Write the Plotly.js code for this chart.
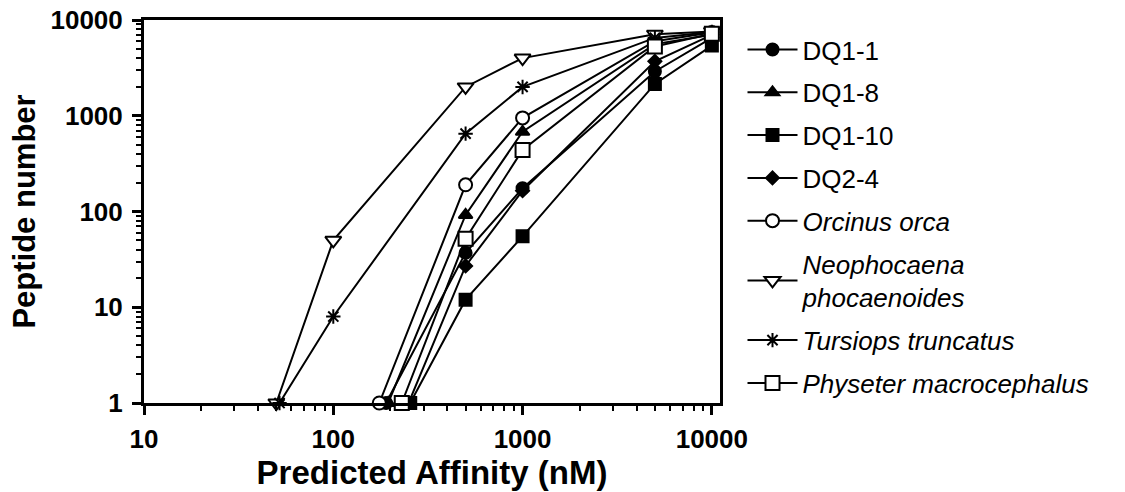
<!DOCTYPE html>
<html>
<head>
<meta charset="utf-8">
<script src="https://cdn.plot.ly/plotly-3.0.1.min.js"></script>
<style>html,body{margin:0;padding:0;background:#fff;}#chart{width:1125px;height:492px;}</style>
</head>
<body>
<div id="chart"></div>
<script>
// Series data (x = predicted affinity nM, y = peptide number)
const seriesNames = ["DQ1-1", "DQ1-8", "DQ1-10", "DQ2-4", "<i>Orcinus orca</i>", "<i>Neophocaena<br>phocaenoides</i>", "<i>Tursiops truncatus</i>", "<i>Physeter macrocephalus</i>"];

const dq11_x = [190, 500, 1000, 5000, 10000];
const dq11_y = [1, 37, 175, 2900, 6500];

const dq18_x = [195, 500, 1000, 5000, 10000];
const dq18_y = [1, 92, 680, 5600, 7000];

const dq110_x = [255, 500, 1000, 5000, 10000];
const dq110_y = [1, 12, 55, 2150, 5400];

const dq24_x = [250, 500, 1000, 5000, 10000];
const dq24_y = [1, 27, 165, 3700, 7000];

const orca_x = [175, 500, 1000, 5000, 10000];
const orca_y = [1, 190, 950, 6000, 7400];

const neo_x = [50, 100, 500, 1000, 5000, 10000];
const neo_y = [1, 50, 2000, 4000, 7100, 7600];

const turs_x = [52, 100, 500, 1000, 5000, 10000];
const turs_y = [1, 8, 650, 2000, 6500, 7500];

const phys_x = [230, 500, 1000, 5000, 10000];
const phys_y = [1, 52, 440, 5300, 7200];

const xTickVals = [10, 100, 1000, 10000];
const xTickText = ["10", "100", "1000", "10000"];
const yTickVals = [1, 10, 100, 1000, 10000];
const yTickText = ["1", "10", "100", "1000", "10000"];

const xs = [dq11_x, dq18_x, dq110_x, dq24_x, orca_x, neo_x, turs_x, phys_x];
const ys = [dq11_y, dq18_y, dq110_y, dq24_y, orca_y, neo_y, turs_y, phys_y];
const symbols = ["circle", "triangle-up", "square", "diamond", "circle", "triangle-down", "asterisk-open", "square"];
const sizes = [12, 12, 12, 10, 13, 14, 12, 14];
const fills = ["#000", "#000", "#000", "#000", "#fff", "#fff", "#000", "#fff"];

const traces = seriesNames.map((n, i) => ({
  type: "scatter",
  mode: "lines+markers",
  name: n,
  legendgroup: "g" + i,
  x: xs[i],
  y: ys[i],
  cliponaxis: false,
  line: {color: "#000", width: 2},
  marker: {symbol: symbols[i], size: sizes[i], color: fills[i], line: {color: "#000", width: 2}}
}));

const FAM = "Liberation Sans, Arial, sans-serif";
const axisFont = {family: FAM, size: 26, color: "#000", weight: "bold"};

const layout = {
  width: 1125,
  height: 492,
  margin: {l: 144, r: 405, t: 20, b: 89},
  paper_bgcolor: "#fff",
  plot_bgcolor: "#fff",
  font: {family: FAM, color: "#000"},
  showlegend: true,
  legend: {
    xref: "container", yref: "container",
    x: 0.66, y: 0.947, xanchor: "left", yanchor: "top",
    font: {family: FAM, size: 26, color: "#000"},
    itemwidth: 50,
    tracegroupgap: 6,
    maxheight: 480,
    bgcolor: "rgba(0,0,0,0)"
  },
  xaxis: {
    type: "log",
    range: [1, 4.043],
    showgrid: false, zeroline: false,
    showline: true, linecolor: "#000", linewidth: 3, mirror: true,
    ticks: "outside", ticklen: 9, tickwidth: 3, tickcolor: "#000",
    tickvals: xTickVals, ticktext: xTickText,
    tickfont: axisFont,
    ticklabelstandoff: 2,
    minor: {ticks: "outside", ticklen: 5, tickwidth: 2, tickcolor: "#000", dtick: "D1", showgrid: false},
    title: {text: "Predicted Affinity (nM)", font: {family: FAM, size: 33, color: "#000", weight: "bold"}, standoff: 0}
  },
  yaxis: {
    type: "log",
    range: [0, 4],
    showgrid: false, zeroline: false,
    showline: true, linecolor: "#000", linewidth: 3, mirror: true,
    ticks: "outside", ticklen: 9, tickwidth: 3, tickcolor: "#000",
    tickvals: yTickVals, ticktext: yTickText,
    tickfont: axisFont,
    ticklabelstandoff: 4,
    minor: {ticks: "outside", ticklen: 5, tickwidth: 2, tickcolor: "#000", dtick: "D1", showgrid: false},
    title: {text: "Peptide number", font: {family: FAM, size: 31, color: "#000", weight: "bold"}, standoff: 6}
  }
};

Plotly.newPlot("chart", traces, layout, {staticPlot: true, displayModeBar: false});
</script>
</body>
</html>
